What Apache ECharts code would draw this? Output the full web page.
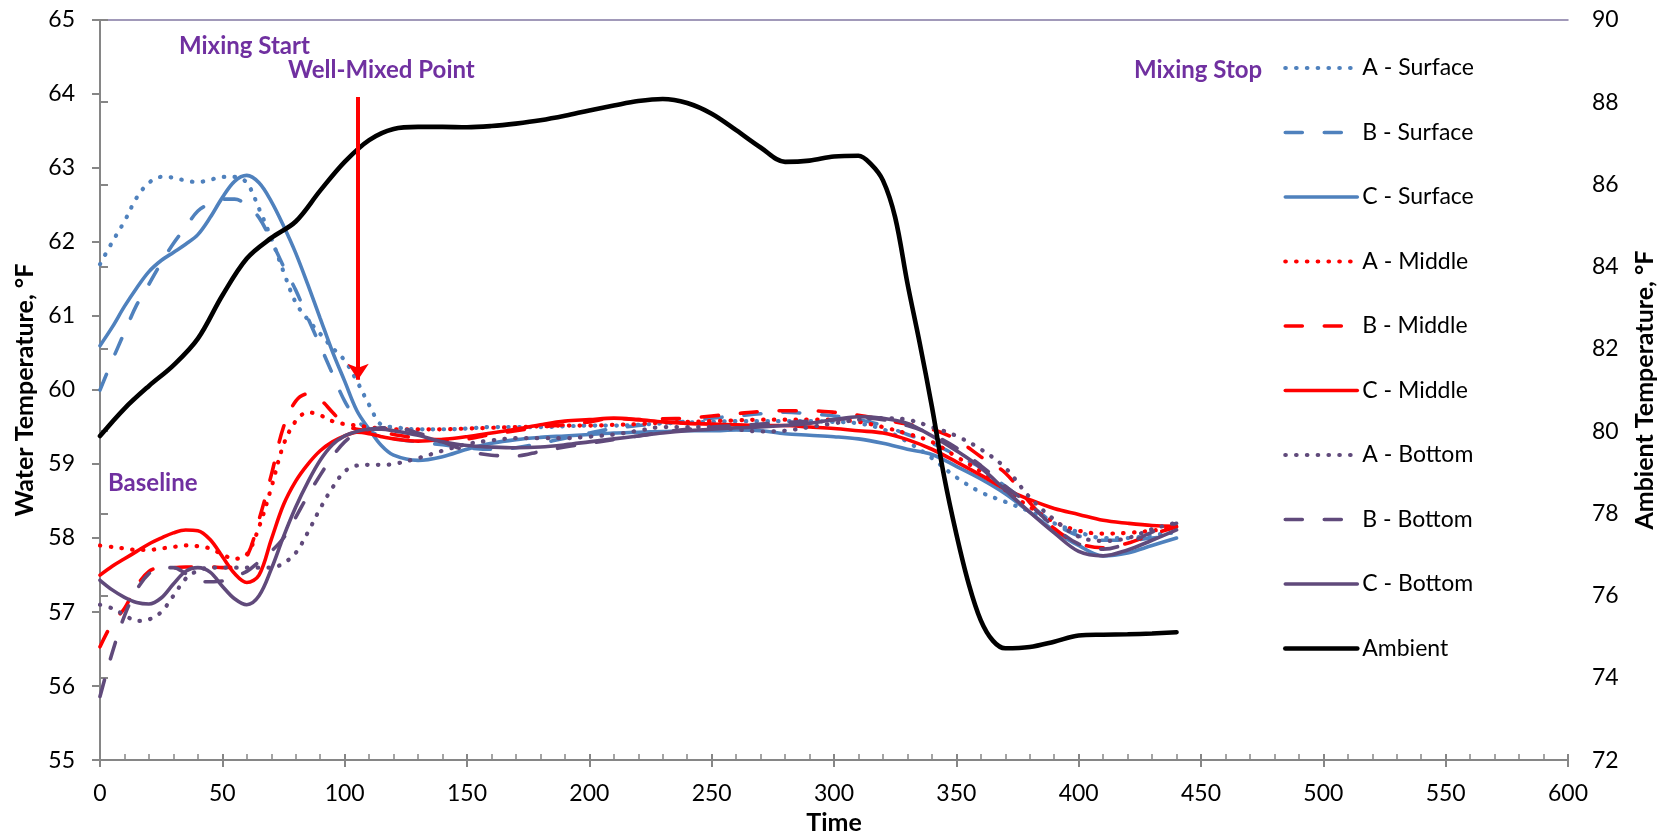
<!DOCTYPE html>
<html>
<head>
<meta charset="utf-8">
<style>
  html, body { margin: 0; padding: 0; background: #fff; }
  #chart { width: 1665px; height: 840px; }
</style>
<script src="https://cdn.jsdelivr.net/npm/echarts@6.0.0/dist/echarts.min.js"></script>
</head>
<body>
<div id="chart"></div>
<script>
// time axis for the water probes (5 s steps early, then 10)
const times = [0, 5, 10, 15, 20, 25, 30, 35, 40, 45, 50, 55, 60, 65, 70, 75, 80, 85, 90, 95, 100, 105, 110, 115, 120,
  130, 140, 150, 160, 170, 180, 190, 200, 210, 220, 230, 240, 250, 260, 270, 280, 290, 300, 310, 320, 330, 340, 350,
  360, 370, 380, 390, 400, 410, 420, 430, 440];

const aSurface = [61.7, 62.0, 62.28, 62.6, 62.8, 62.88, 62.87, 62.83, 62.81, 62.84, 62.88, 62.88, 62.8, 62.45, 62.05, 61.6,
  61.18, 60.95, 60.76, 60.57, 60.4, 60.12, 59.8, 59.53, 59.5,
  59.47, 59.47, 59.48, 59.5, 59.5, 59.5, 59.51, 59.52, 59.52, 59.53, 59.55, 59.56, 59.57, 59.58, 59.58, 59.58, 59.58,
  59.57, 59.55, 59.47, 59.3, 59.08, 58.82, 58.62, 58.49, 58.36, 58.2, 58.08, 58.0, 58.0, 58.04, 58.08];
const bSurface = [60.0, 60.4, 60.78, 61.15, 61.43, 61.72, 61.98, 62.2, 62.42, 62.52, 62.58, 62.58, 62.5, 62.33, 62.02, 61.67,
  61.35, 60.97, 60.6, 60.22, 59.85, 59.6, 59.45, 59.38, 59.34,
  59.3, 59.26, 59.22, 59.2, 59.22, 59.28, 59.35, 59.42, 59.48, 59.52, 59.55, 59.58, 59.62, 59.65, 59.68, 59.7, 59.68,
  59.65, 59.6, 59.52, 59.4, 59.28, 59.12, 58.95, 58.7, 58.45, 58.2, 58.03, 57.97, 57.97, 58.0, 58.03];
const cSurface = [60.6, 60.85, 61.13, 61.38, 61.6, 61.75, 61.86, 61.97, 62.1, 62.33, 62.6, 62.82, 62.9, 62.8, 62.55, 62.22,
  61.85, 61.42, 60.97, 60.52, 60.12, 59.72, 59.47, 59.25, 59.12,
  59.05, 59.1, 59.2, 59.28, 59.33, 59.36, 59.38, 59.4, 59.42, 59.43, 59.44, 59.45, 59.45, 59.46, 59.45, 59.41, 59.39,
  59.37, 59.34, 59.28, 59.2, 59.13, 58.97, 58.8, 58.6, 58.35, 58.1, 57.9, 57.76, 57.8, 57.9, 58.0];
const aMiddle = [57.9, 57.88, 57.86, 57.84, 57.84, 57.86, 57.88, 57.9, 57.89, 57.86, 57.78, 57.72, 57.78, 58.15, 58.68, 59.26,
  59.58, 59.7, 59.66, 59.58, 59.54, 59.52, 59.5, 59.48, 59.47,
  59.47, 59.47, 59.48, 59.49, 59.5, 59.51, 59.52, 59.52, 59.53, 59.54, 59.56, 59.57, 59.58, 59.59, 59.6, 59.6, 59.6,
  59.6, 59.57, 59.5, 59.41, 59.3, 59.1, 58.9, 58.65, 58.42, 58.22, 58.1, 58.06, 58.07, 58.1, 58.15];
const bMiddle = [56.53, 56.85, 57.05, 57.35, 57.55, 57.6, 57.6, 57.61, 57.61, 57.61, 57.6, 57.62, 57.75, 58.25, 58.85, 59.5,
  59.85, 59.95, 59.87, 59.7, 59.53, 59.47, 59.45, 59.43, 59.4,
  59.35, 59.33, 59.34, 59.4, 59.45, 59.5, 59.53, 59.57, 59.62, 59.6, 59.61, 59.62, 59.65, 59.68, 59.71, 59.72, 59.72,
  59.7, 59.66, 59.6, 59.54, 59.47, 59.33, 59.1, 58.88, 58.48, 58.13, 57.93, 57.87, 57.93, 58.05, 58.15];
const cMiddle = [57.5, 57.62, 57.72, 57.82, 57.92, 58.0, 58.07, 58.11, 58.1, 57.98, 57.75, 57.52, 57.4, 57.5, 57.98, 58.45,
  58.77, 59.0, 59.18, 59.3, 59.38, 59.43, 59.41, 59.37, 59.34,
  59.31, 59.33, 59.37, 59.42, 59.47, 59.53, 59.58, 59.6, 59.62, 59.6, 59.57, 59.55, 59.54, 59.53, 59.52, 59.52, 59.5,
  59.48, 59.45, 59.42, 59.33, 59.2, 59.03, 58.85, 58.66, 58.52, 58.4, 58.32, 58.24, 58.2, 58.17, 58.16];
const aBottom = [57.1, 57.05, 56.96, 56.88, 56.9, 57.0, 57.22, 57.45, 57.56, 57.6, 57.6, 57.6, 57.6, 57.6, 57.6, 57.66,
  57.8, 58.08, 58.4, 58.68, 58.9, 58.98, 58.99, 58.99, 59.0,
  59.08, 59.18, 59.27, 59.32, 59.35, 59.35, 59.35, 59.37, 59.4, 59.45, 59.5, 59.5, 59.5, 59.47, 59.44, 59.45, 59.5,
  59.55, 59.6, 59.62, 59.6, 59.5, 59.38, 59.2, 58.95, 58.55, 58.25, 58.02, 57.96, 58.0, 58.12, 58.21];
const bBottom = [55.86, 56.45, 56.95, 57.3, 57.52, 57.6, 57.6, 57.52, 57.42, 57.41, 57.42, 57.48, 57.55, 57.68, 57.82, 58.0,
  58.28, 58.58, 58.85, 59.1, 59.3, 59.42, 59.47, 59.49, 59.49,
  59.42, 59.3, 59.18, 59.12, 59.11, 59.17, 59.23, 59.28, 59.33, 59.38, 59.43, 59.47, 59.5, 59.52, 59.54, 59.56, 59.58,
  59.6, 59.62, 59.6, 59.52, 59.4, 59.22, 58.98, 58.7, 58.45, 58.15, 57.92, 57.85, 57.93, 58.08, 58.2];
const cBottom = [57.43, 57.3, 57.2, 57.13, 57.11, 57.19, 57.38, 57.55, 57.6, 57.54, 57.35, 57.18, 57.1, 57.22, 57.58, 58.02,
  58.42, 58.76, 59.05, 59.26, 59.38, 59.44, 59.47, 59.47, 59.45,
  59.39, 59.3, 59.25, 59.23, 59.22, 59.23, 59.26, 59.3, 59.34, 59.38, 59.42, 59.45, 59.47, 59.49, 59.5, 59.52, 59.55,
  59.6, 59.64, 59.62, 59.55, 59.38, 59.18, 58.95, 58.65, 58.35, 58.07, 57.82, 57.76, 57.84, 57.97, 58.11];

// ambient air, right axis
const ambientTimes = [0, 10, 20, 30, 40, 50, 60, 70, 80, 90, 100, 110, 120, 130, 140, 150, 160, 170, 180, 190, 200, 210,
  220, 230, 240, 250, 260, 270, 280, 290, 300, 310, 315, 320, 325, 330, 335, 340, 345, 350, 355, 360, 365, 370, 380, 390,
  400, 410, 420, 430, 440];
const ambient = [79.88, 80.55, 81.1, 81.6, 82.25, 83.3, 84.2, 84.7, 85.1, 85.85, 86.55, 87.08, 87.35, 87.4, 87.4, 87.39,
  87.42, 87.48, 87.56, 87.67, 87.8, 87.92, 88.03, 88.08, 87.98, 87.72, 87.32, 86.9, 86.55, 86.58, 86.68, 86.7, 86.5, 86.1,
  85.2, 83.6, 82.15, 80.6, 78.9, 77.5, 76.3, 75.4, 74.9, 74.72, 74.75, 74.88, 75.03, 75.05, 75.06, 75.08, 75.11];

// red arrow marking the well-mixed point (time, from, to)
const arrowTime = 105.5, arrowFrom = 63.96, arrowTo = 60.14;

const FONT = 'Lato, "Open Sans", sans-serif';
const BLUE = '#4F81BD', RED = '#FF0000', PURPLE = '#604A7B';
const AXIS = '#868686';
const NOTE = 'bold 24px Lato';
const DOT = [0.5, 10.3];
const DASH = [17, 22];

function probe(name, values, color, dash) {
  return {
    name: name,
    type: 'line',
    data: times.map((t, i) => [t, values[i]]),
    smooth: 0.35,
    symbol: 'none',
    showSymbol: false,
    lineStyle: { color: color, width: dash === DOT ? 4.2 : 3.6, type: dash, cap: 'round' },
    itemStyle: { color: color },
    animation: false
  };
}

const series = [
  probe('A - Surface', aSurface, BLUE, DOT),
  probe('B - Surface', bSurface, BLUE, DASH),
  probe('C - Surface', cSurface, BLUE, 'solid'),
  probe('A - Middle', aMiddle, RED, DOT),
  probe('B - Middle', bMiddle, RED, DASH),
  probe('C - Middle', cMiddle, RED, 'solid'),
  probe('A - Bottom', aBottom, PURPLE, DOT),
  probe('B - Bottom', bBottom, PURPLE, DASH),
  probe('C - Bottom', cBottom, PURPLE, 'solid'),
  {
    name: 'Ambient',
    type: 'line',
    yAxisIndex: 1,
    data: ambientTimes.map((t, i) => [t, ambient[i]]),
    smooth: 0.35,
    symbol: 'none',
    showSymbol: false,
    lineStyle: { color: '#000', width: 4.6, cap: 'round' },
    itemStyle: { color: '#000' }
  },
  {
    name: 'arrow',
    type: 'line',
    data: [],
    markLine: {
      silent: true,
      symbol: ['none', 'arrow'],
      symbolSize: 16,
      label: { show: false },
      lineStyle: { color: RED, width: 4, type: 'solid' },
      data: [[{ coord: [arrowTime, arrowFrom] }, { coord: [arrowTime, arrowTo] }]]
    }
  }
];

const labelStyle = { color: '#000', fontSize: 23, fontFamily: FONT };
const nameStyle = { color: '#000', fontSize: 25, fontWeight: 'bold', fontFamily: FONT };
const axisLine = { show: true, lineStyle: { color: AXIS, width: 2 } };

const option = {
  animation: false,
  backgroundColor: '#fff',
  grid: { left: 100, right: 96, top: 20, bottom: 73 },
  xAxis: [
    {
      type: 'value', min: 0, max: 600, interval: 50, position: 'bottom',
      axisLine: axisLine,
      axisTick: { show: true, inside: true, length: 6, lineStyle: { color: AXIS, width: 2 } },
      minorTick: { show: true, splitNumber: 5, length: 6, lineStyle: { color: AXIS, width: 1.5 } },
      axisLabel: Object.assign({ margin: 22 }, labelStyle),
      splitLine: { show: false },
      name: 'Time', nameLocation: 'middle', nameGap: 47, nameTextStyle: nameStyle
    },
    {
      type: 'value', min: 0, max: 600, interval: 50, position: 'bottom',
      axisLine: { show: false },
      axisTick: { show: true, length: 7, lineStyle: { color: AXIS, width: 2 } },
      axisLabel: { show: false },
      splitLine: { show: false }
    },
    {
      type: 'value', min: 0, max: 600, position: 'top',
      axisLine: { show: true, lineStyle: { color: '#8378A3', width: 1.5 } },
      axisTick: { show: false },
      axisLabel: { show: false },
      splitLine: { show: false }
    }
  ],
  yAxis: [
    {
      type: 'value', min: 55, max: 65, interval: 1, position: 'left',
      axisLine: axisLine,
      axisTick: { show: true, length: 8, lineStyle: { color: AXIS, width: 2 } },
      axisLabel: Object.assign({ margin: 25 }, labelStyle),
      splitLine: { show: false },
      name: 'Water Temperature, °F', nameLocation: 'middle', nameRotate: 90, nameGap: 60,
      nameTextStyle: nameStyle
    },
    {
      type: 'value', min: 72, max: 90, interval: 2, position: 'right',
      axisLine: axisLine,
      axisTick: { show: true, length: 8, lineStyle: { color: AXIS, width: 2 } },
      axisLabel: Object.assign({ margin: 24 }, labelStyle),
      splitLine: { show: false },
      name: 'Ambient Temperature, °F', nameLocation: 'middle', nameRotate: 90, nameGap: 64,
      nameTextStyle: nameStyle
    }
  ],
  legend: {
    orient: 'vertical',
    left: 1283,
    top: 56,
    padding: 0,
    itemWidth: 72,
    itemHeight: 2,
    itemGap: 40.5,
    data: ['A - Surface', 'B - Surface', 'C - Surface', 'A - Middle', 'B - Middle', 'C - Middle',
      'A - Bottom', 'B - Bottom', 'C - Bottom', 'Ambient'],
    itemStyle: { opacity: 0, borderWidth: 0 },
    lineStyle: { width: 'inherit' },
    textStyle: { color: '#000', fontSize: 23, fontFamily: FONT, lineHeight: 24 }
  },
  graphic: [
    { type: 'text', x: 179, y: 46, style: { text: 'Mixing Start', fill: '#7030A0', font: NOTE, verticalAlign: 'middle' } },
    { type: 'text', x: 288, y: 70, style: { text: 'Well-Mixed Point', fill: '#7030A0', font: NOTE, verticalAlign: 'middle' } },
    { type: 'text', x: 1134, y: 70, style: { text: 'Mixing Stop', fill: '#7030A0', font: NOTE, verticalAlign: 'middle' } },
    { type: 'text', x: 108, y: 483, style: { text: 'Baseline', fill: '#7030A0', font: NOTE, verticalAlign: 'middle' } }
  ],
  series: series
};

const chart = echarts.init(document.getElementById('chart'));
chart.setOption(option);
</script>
</body>
</html>
